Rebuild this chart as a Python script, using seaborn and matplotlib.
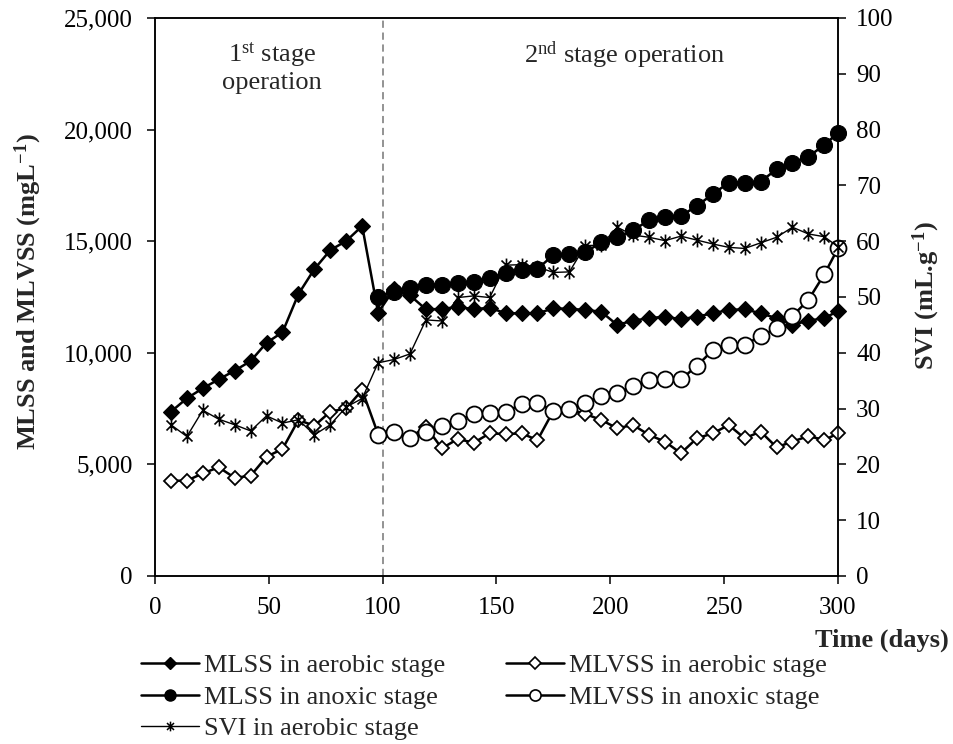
import matplotlib
matplotlib.use("Agg")
import matplotlib.pyplot as plt
import seaborn as sns
from matplotlib.path import Path
from matplotlib.lines import Line2D
from matplotlib.ticker import FuncFormatter, MultipleLocator

# Sampling days (weekly, final sample on day 300)
days_all = [7, 14, 21, 28, 35, 42, 49, 56, 63, 70, 77, 84, 91, 98,
            105, 112, 119, 126, 133, 140, 147, 154, 161, 168, 175, 182,
            189, 196, 203, 210, 217, 224, 231, 238, 245, 252, 259, 266,
            273, 280, 287, 294, 300]
days_anoxic = [98, 105, 112, 119, 126, 133, 140, 147, 154, 161, 168, 175,
               182, 189, 196, 203, 210, 217, 224, 231, 238, 245, 252, 259,
               266, 273, 280, 287, 294, 300]

# Mixed liquor suspended solids, mg/L
mlss_aerobic = [7360, 7960, 8410, 8810, 9200, 9630, 10450, 10920, 12630, 13750,
                14600, 15010, 15680, 11800,
                12850, 12570, 11950, 11960, 12060, 11950, 12020, 11770, 11770,
                11770, 11990, 11970, 11920, 11840, 11250, 11440, 11550, 11620,
                11500, 11620, 11770, 11920, 11950, 11770, 11550, 11250, 11440,
                11550, 11870]
mlvss_aerobic = [4270, 4270, 4600, 4870, 4400, 4490, 5345, 5690, 6990, 6730,
                 7360, 7510, 8330, 6350,
                 6430, 6200, 6690, 5720, 6140, 5970, 6390, 6360, 6390, 6090,
                 7400, 7470, 7260, 6990, 6620, 6765, 6320, 6020, 5500, 6170,
                 6390, 6765, 6170, 6470, 5770, 6020, 6270, 6090, 6390]
mlss_anoxic = [12510, 12740, 12900, 13040, 13040, 13140, 13190, 13340, 13560,
               13710, 13760, 14380, 14430, 14500, 14950, 15180, 15480, 15950,
               16100, 16130, 16580, 17110, 17620, 17620, 17670, 18220, 18520,
               18790, 19310, 19860]
mlvss_anoxic = [6320, 6470, 6170, 6470, 6730, 6960, 7260, 7320, 7330, 7710,
                7740, 7410, 7470, 7770, 8050, 8180, 8510, 8780, 8810, 8810,
                9410, 10120, 10350, 10350, 10750, 11100, 11650, 12370, 13520,
                14680]
# Sludge volume index, mL/g
svi_aerobic = [27.1, 25.0, 29.7, 28.1, 27.1, 26.0, 28.7, 27.4, 28.0, 25.3,
               27.1, 30.3, 31.8, 38.2,
               38.8, 39.8, 45.9, 45.7, 49.9, 50.2, 49.9, 55.7, 55.8, 55.4,
               54.4, 54.5, 59.2, 59.3, 62.5, 61.1, 60.7, 60.1, 60.9, 60.2,
               59.5, 58.9, 58.7, 59.7, 60.7, 62.5, 61.3, 60.8, 59.0]

series_labels = ["MLSS in aerobic stage", "MLVSS in aerobic stage",
                 "MLSS in anoxic stage", "MLVSS in anoxic stage",
                 "SVI in aerobic stage"]
stage_change_day = 100

sns.set_theme(style="ticks")
plt.rcParams["font.family"] = ["Liberation Serif", "DejaVu Serif"]
plt.rcParams["mathtext.fontset"] = "custom"
plt.rcParams["mathtext.rm"] = "Liberation Serif"
plt.rcParams["mathtext.it"] = "Liberation Serif:italic"
plt.rcParams["mathtext.bf"] = "Liberation Serif:bold"
plt.rcParams["axes.edgecolor"] = "black"
plt.rcParams["axes.linewidth"] = 1.1

# Asterisk marker: vertical bar plus a diagonal cross
star_path = Path([(0, -1), (0, 1), (-0.72, -0.72), (0.72, 0.72),
                  (-0.72, 0.72), (0.72, -0.72)],
                 [Path.MOVETO, Path.LINETO, Path.MOVETO, Path.LINETO,
                  Path.MOVETO, Path.LINETO])

fig = plt.figure(figsize=(9.54, 7.44), dpi=100)
ax = fig.add_axes([155 / 954, 1 - 576 / 744, 683 / 954, 558 / 744])
ax2 = ax.twinx()

ax.axvline(stage_change_day, color="#8a8a8a", lw=1.3, ls=(0, (4, 2.6)), zorder=1)

thick = 1.8
common = dict(color="black", legend=False, clip_on=False)
sns.lineplot(x=days_all, y=mlss_aerobic, ax=ax, linewidth=thick,
             marker="D", markersize=8, markerfacecolor="black",
             markeredgecolor="black", markeredgewidth=0.8, zorder=3, **common)
sns.lineplot(x=days_all, y=mlvss_aerobic, ax=ax, linewidth=thick,
             marker="D", markersize=7.6, markerfacecolor="white",
             markeredgecolor="black", markeredgewidth=1.3, zorder=3, **common)
sns.lineplot(x=days_anoxic, y=mlss_anoxic, ax=ax, linewidth=thick,
             marker="o", markersize=11.5, markerfacecolor="black",
             markeredgecolor="black", markeredgewidth=0.8, zorder=4, **common)
sns.lineplot(x=days_anoxic, y=mlvss_anoxic, ax=ax, linewidth=thick,
             marker="o", markersize=11.5, markerfacecolor="white",
             markeredgecolor="black", markeredgewidth=1.3, zorder=4, **common)
sns.lineplot(x=days_all, y=svi_aerobic, ax=ax2, linewidth=1.0,
             marker=star_path, markersize=10, markerfacecolor="none",
             markeredgecolor="black", markeredgewidth=1.2, zorder=5, **common)

ax.set_xlim(0, 300)
ax.set_ylim(0, 25000)
ax2.set_ylim(0, 100)
ax.xaxis.set_major_locator(MultipleLocator(50))
ax.yaxis.set_major_locator(MultipleLocator(5000))
ax2.yaxis.set_major_locator(MultipleLocator(10))
ax.yaxis.set_major_formatter(FuncFormatter(lambda v, p: f"{int(v):,}"))
ax.set_xlabel("")
ax.set_ylabel("")
ax2.set_ylabel("")

for a in (ax, ax2):
    a.tick_params(direction="out", length=6, width=1.1, labelsize=18,
                  colors="black", pad=7)
    for s in a.spines.values():
        s.set_visible(True)
        s.set_color("black")
        s.set_linewidth(1.1)
ax.tick_params(axis="x", pad=9)
ax.tick_params(axis="y", pad=10)

# Stage annotations
ax.text(0.171, 0.934, "1$^{\\rm st}$ stage", transform=ax.transAxes,
        ha="center", va="center", fontsize=19)
ax.text(0.171, 0.8835, "operation", transform=ax.transAxes,
        ha="center", va="center", fontsize=19)
ax.text(0.687, 0.934, "2$^{\\rm nd}$ stage operation", transform=ax.transAxes,
        ha="center", va="center", fontsize=19)

# Axis titles
fig.text(28 / 954, 1 - 292 / 744, "MLSS and MLVSS (mgL$^{\\mathbf{-1}}$)",
         rotation=90, ha="center", va="center", fontsize=19, fontweight="bold")
fig.text(926 / 954, 1 - 296 / 744, "SVI (mL.g$^{\\mathbf{-1}}$)",
         rotation=90, ha="center", va="center", fontsize=19, fontweight="bold")
fig.text(949 / 954, 1 - 640 / 744, "Time (days)", ha="right", va="center",
         fontsize=19, fontweight="bold")

# Legend
h_mlss_aer = Line2D([], [], color="black", lw=thick, marker="D", ms=6,
                    mfc="black", mec="black")
h_mlvss_aer = Line2D([], [], color="black", lw=thick, marker="D", ms=6,
                     mfc="white", mec="black", mew=1.2)
h_mlss_anx = Line2D([], [], color="black", lw=thick, marker="o", ms=8,
                    mfc="black", mec="black")
h_mlvss_anx = Line2D([], [], color="black", lw=thick, marker="o", ms=8,
                     mfc="white", mec="black", mew=1.2)
h_svi = Line2D([], [], color="black", lw=1.0, marker=star_path, ms=7,
               mfc="none", mec="black", mew=1.1)
fig.legend([h_mlss_aer, h_mlss_anx, h_svi, h_mlvss_aer, h_mlvss_anx],
           [series_labels[0], series_labels[2], series_labels[4],
            series_labels[1], series_labels[3]],
           ncol=2, loc="upper left", bbox_to_anchor=(141 / 954, 1 - 654 / 744),
           frameon=False, fontsize=19, handlelength=2.2, handletextpad=0.19,
           columnspacing=2.3, labelspacing=0.3, borderpad=0, borderaxespad=0)

fig.savefig("out.png", dpi=100, facecolor="white")
